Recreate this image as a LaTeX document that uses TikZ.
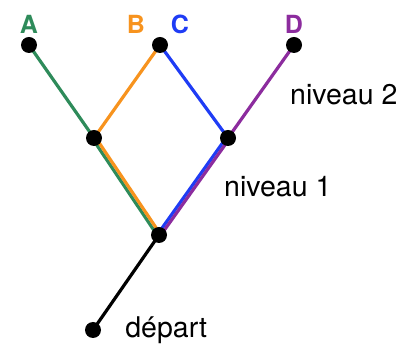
\documentclass[tikz,border=0pt]{standalone}
\usepackage{fontspec}
\setmainfont{TeX Gyre Heros}
\usepackage{tikz}
\usetikzlibrary{positioning,backgrounds}
\definecolor{TreeGreen}{HTML}{2E8B5A}
\definecolor{TreeOrange}{HTML}{F7931E}
\definecolor{TreeBlue}{HTML}{1F3CF5}
\definecolor{TreePurple}{HTML}{8C2C9E}
\tikzset{
  dot/.style={circle, fill=black, inner sep=0pt, minimum size=16pt},
  leaf/.style={font=\fontsize{25}{28}\selectfont\bfseries, inner sep=1pt},
  level/.style={font=\fontsize{28.5}{32}\selectfont, inner sep=0pt},
  branch/.style={line width=3.2pt}
}
\begin{document}
\begin{tikzpicture}[x=1pt, y=1pt]
  \useasboundingbox (0,0) rectangle (409,347);
  % points of the tree
  \node[dot] (a) at (29,302) {};
  \node[dot] (b) at (160,302) {};
  \node[dot] (d) at (294,302) {};
  \node[dot] (left) at (94,209) {};
  \node[dot] (right) at (228,209) {};
  \node[dot] (root) at (159,112) {};
  \node[dot] (depart) at (93,17) {};
  % names of the leaves
  \node[leaf, text=TreeGreen, above=2pt of a] (labA) {A};
  \node[leaf, text=TreeOrange, above=2pt of b, xshift=-24pt] (labB) {B};
  \node[leaf, text=TreeBlue, above=2pt of b, xshift=20pt] (labC) {C};
  \node[leaf, text=TreePurple, above=2pt of d] (labD) {D};
  % levels
  \node[level, anchor=west] (niv2) at (290,252) {niveau 2};
  \node[level, anchor=west] (niv1) at (224,160) {niveau 1};
  \node[level, right=24pt of depart] (dep) {départ};
  \begin{scope}[on background layer]
    \draw[branch] (depart.center) -- (root.center);
    \draw[branch, TreeGreen] (a.center) -- (left.center);
    \draw[branch, TreeGreen] ([xshift=-1.9pt]left.center) -- ([xshift=-1.9pt]root.center);
    \draw[branch, TreeOrange] (b.center) -- (left.center);
    \draw[branch, TreeOrange] ([xshift=1.9pt]left.center) -- ([xshift=1.9pt]root.center);
    \draw[branch, TreeBlue] (b.center) -- (right.center);
    \draw[branch, TreeBlue] ([xshift=-1.9pt]right.center) -- ([xshift=-1.9pt]root.center);
    \draw[branch, TreePurple] (d.center) -- (right.center);
    \draw[branch, TreePurple] ([xshift=1.9pt]right.center) -- ([xshift=1.9pt]root.center);
  \end{scope}
\end{tikzpicture}
\end{document}
